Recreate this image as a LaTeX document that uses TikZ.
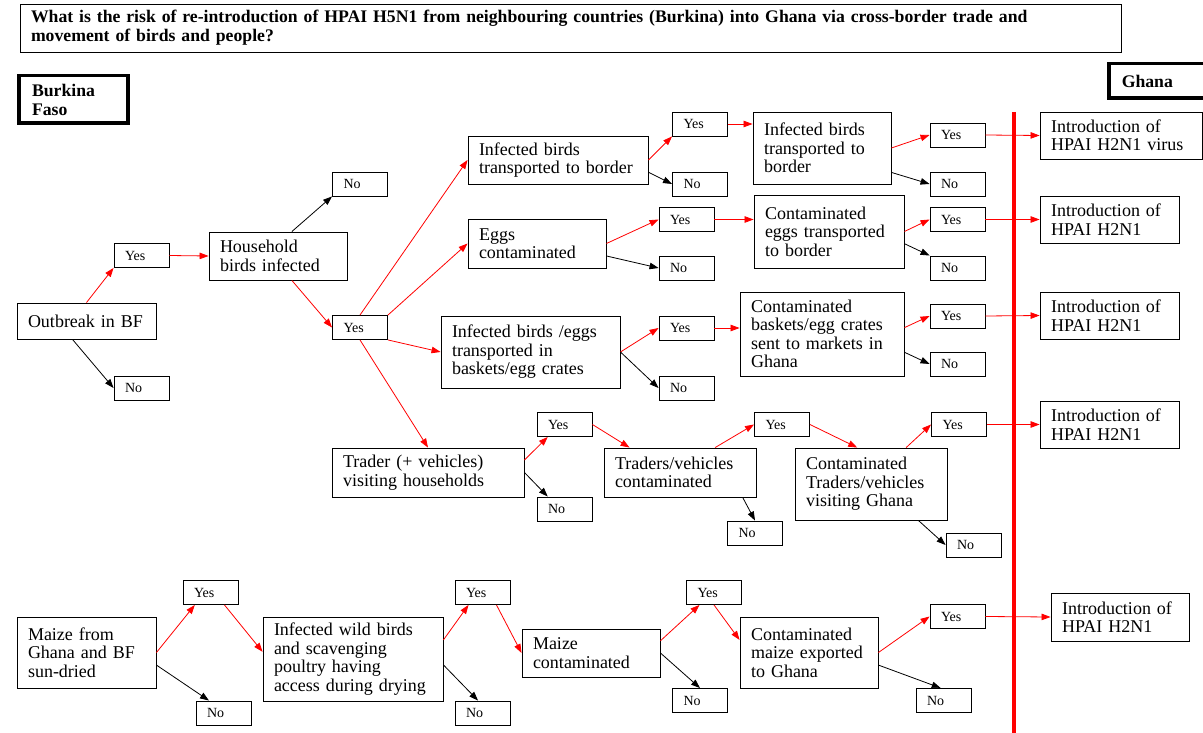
\documentclass[tikz,border=0pt]{standalone}
\usepackage{fontspec}
\setmainfont{Liberation Serif}
\usepackage{tikz}
\usetikzlibrary{arrows.meta,calc}

\newcommand{\diagfont}{\fontsize{18}{18.5}\selectfont}
\newcommand{\ynfont}{\fontsize{14}{16}\selectfont}
\newcommand{\headfont}{\fontsize{17.7}{19}\selectfont\bfseries}

\tikzset{
  box/.style={
    draw,
    line width=0.9pt,
    align=left,
    inner xsep=11pt,
    inner ysep=0pt,
    font=\diagfont
  },
  yn/.style={
    box,
    text width=33pt,
    minimum height=24pt,
    font=\ynfont
  },
  country/.style={
    draw,
    line width=3.5pt,
    align=left,
    inner xsep=13pt,
    inner ysep=0pt,
    font=\headfont
  },
  yesarrow/.style={
    red,
    line width=0.8pt,
    -{Triangle[length=9pt,width=6.5pt]}
  },
  noarrow/.style={
    black,
    line width=0.8pt,
    -{Triangle[length=9pt,width=6.5pt]}
  },
  border/.style={
    red,
    line width=3.5pt
  }
}

\begin{document}
\begin{tikzpicture}[x=1pt,y=-1pt]
        \fill[white] (0,0) rectangle (1203,733);
        \useasboundingbox (0,0) rectangle (1203,733);

        \node[box, font=\headfont, text width=1079pt, minimum height=48pt] (q) at (570.5,28)
          {What is the risk of re-introduction of HPAI H5N1 from neighbouring countries (Burkina) into Ghana via cross-border trade and\\movement of birds and people?};
        \node[country, text width=83pt, minimum height=47.5pt] (bf) at (73.5,99.5) {Burkina\\Faso};
        \node[country, text width=73.5pt, minimum height=34.5pt] (gh) at (1158.5,81) {Ghana};

        % border between the two countries
        \coordinate (lt) at (1014,112);
        \coordinate (lb) at (1014,735);
        \draw[border] (lt) -- (lb);

        % outbreak in households
        \node[box, text width=117pt, minimum height=36pt] (ob) at (86.5,321) {Outbreak in BF};
        \node[yn] (y1) at (141.5,255.5) {Yes};
        \node[yn] (n1) at (141.5,388) {No};
        \node[box, text width=116pt, minimum height=48pt] (hh) at (278,256) {Household\\birds infected};
        \node[yn] (n2) at (360,184) {No};
        \node[yn] (y2) at (360,327.5) {Yes};

        \node[box, text width=158pt, minimum height=48pt] (ib1) at (558,160) {Infected birds\\transported to border};
        \node[yn] (y3) at (700,124) {Yes};
        \node[yn] (n3) at (700,184) {No};
        \node[box, text width=116pt, minimum height=72pt] (ib2) at (822,148) {Infected birds\\transported to\\border};
        \node[yn] (y4) at (957.5,135) {Yes};
        \node[yn] (n4) at (957.5,184) {No};
        \node[box, text width=140pt, minimum height=47pt] (in1) at (1121,135.5) {Introduction of\\HPAI H2N1 virus};

        \node[box, text width=116pt, minimum height=49pt] (eggs) at (537,243.5) {Eggs\\contaminated};
        \node[yn] (y5) at (686.5,219.5) {Yes};
        \node[yn] (n5) at (686.5,268) {No};
        \node[box, text width=128pt, minimum height=73pt] (ce) at (829,231.5) {Contaminated\\eggs transported\\to border};
        \node[yn] (y6) at (957.5,219.5) {Yes};
        \node[yn] (n6) at (957.5,268) {No};
        \node[box, text width=117pt, minimum height=47pt] (in2) at (1109.5,219.5) {Introduction of\\HPAI H2N1};

        \node[box, text width=157pt, minimum height=72pt] (ibe) at (530.5,352) {Infected birds /eggs\\transported in\\baskets/egg crates};
        \node[yn] (y7) at (686.5,328) {Yes};
        \node[yn] (n7) at (686.5,388) {No};
        \node[box, text width=142pt, minimum height=84pt] (cb) at (822,334) {Contaminated\\baskets/egg crates\\sent to markets in\\Ghana};
        \node[yn] (y8) at (957.5,316) {Yes};
        \node[yn] (n8) at (957.5,364) {No};
        \node[box, text width=117pt, minimum height=47pt] (in3) at (1109.5,315.5) {Introduction of\\HPAI H2N1};

        \node[box, text width=170pt, minimum height=49pt] (tr) at (428,472.5) {Trader (+ vehicles)\\visiting households};
        \node[yn] (y9) at (564.5,424.5) {Yes};
        \node[yn] (n9) at (564.5,509) {No};
        \node[box, text width=130pt, minimum height=49pt] (tv) at (680,472.5) {Traders/vehicles\\contaminated};
        \node[yn] (y10) at (782,424.5) {Yes};
        \node[yn] (n10) at (755,533) {No};
        \node[box, text width=130pt, minimum height=72pt] (ctv) at (871,484) {Contaminated\\Traders/vehicles\\visiting Ghana};
        \node[yn] (y11) at (959,424.5) {Yes};
        \node[yn] (n11) at (973.5,545) {No};
        \node[box, text width=117pt, minimum height=47pt] (in4) at (1109.5,424.5) {Introduction of\\HPAI H2N1};

        % maize drying
        \node[box, text width=117pt, minimum height=71pt] (mz) at (86.5,652.5) {Maize from\\Ghana and BF\\sun-dried};
        \node[yn] (y12) at (210.5,592.5) {Yes};
        \node[yn] (n12) at (223.5,713) {No};
        \node[box, text width=158pt, minimum height=84pt] (iw) at (353,659) {Infected wild birds\\and scavenging\\poultry having\\access during drying};
        \node[yn] (y13) at (482.5,592.5) {Yes};
        \node[yn] (n13) at (482.5,713) {No};
        \node[box, text width=116pt, minimum height=48pt] (mc) at (591,653) {Maize\\contaminated};
        \node[yn] (y14) at (714,592.5) {Yes};
        \node[yn] (n14) at (700,700.5) {No};
        \node[box, text width=116pt, minimum height=71pt] (cm) at (809,652.5) {Contaminated\\maize exported\\to Ghana};
        \node[yn] (y15) at (957.5,616.5) {Yes};
        \node[yn] (n15) at (943.5,700.5) {No};
        \node[box, text width=116pt, minimum height=48pt] (in5) at (1120,617) {Introduction of\\HPAI H2N1};

        \draw[yesarrow] (ob.north) -- (y1.south west);
        \draw[noarrow] ($(ob.south west)!0.4!(ob.south east)$) -- (n1.west);
        \draw[yesarrow] (y1.east) -- (hh.west);
        \draw[noarrow] ($(hh.north west)!0.6!(hh.north east)$) -- (n2.south west);
        \draw[yesarrow] ($(hh.south west)!0.6!(hh.south east)$) -- (y2.west);
        \draw[yesarrow] (y2.north) -- (ib1.west);
        \draw[yesarrow] (y2.north east) -- (eggs.west);
        \draw[yesarrow] (y2.south east) -- (ibe.west);
        \draw[yesarrow] (y2.south) -- (tr.north);

        \draw[yesarrow] (ib1.east) -- (y3.south west);
        \draw[noarrow] ($(ib1.east)!0.5!(ib1.south east)$) -- (n3.west);
        \draw[yesarrow] (y3.east) -- (y3.east -| ib2.west);
        \draw[yesarrow] (ib2.east) -- (y4.west);
        \draw[noarrow] ($(ib2.east)!0.67!(ib2.south east)$) -- (n4.west);
        \draw[yesarrow] (y4.east) -- (in1.west);

        \draw[yesarrow] (eggs.east) -- (y5.west);
        \draw[noarrow] ($(eggs.east)!0.5!(eggs.south east)$) -- (n5.west);
        \draw[yesarrow] (y5.east) -- (y5.east -| ce.west);
        \draw[yesarrow] (ce.east) -- (y6.west);
        \draw[noarrow] ($(ce.east)!0.33!(ce.south east)$) -- (n6.north west);
        \draw[yesarrow] (y6.east) -- (in2.west);

        \draw[yesarrow] (ibe.east) -- (y7.west);
        \draw[noarrow] (ibe.east) -- (n7.west);
        \draw[yesarrow] (y7.east) -- (y7.east -| cb.west);
        \draw[yesarrow] ($(cb.east)!0.15!(cb.north east)$) -- (y8.west);
        \draw[noarrow] ($(cb.east)!0.43!(cb.south east)$) -- (n8.west);
        \draw[yesarrow] (y8.east) -- (in3.west);

        \draw[yesarrow] ($(tr.east)!0.5!(tr.north east)$) -- ($(y9.south west)!0.2!(y9.south east)$);
        \draw[noarrow] (tr.east) -- ($(n9.north west)!0.2!(n9.north east)$);
        \draw[yesarrow] (y9.east) -- ($(tv.north west)!0.17!(tv.north east)$);
        \draw[yesarrow] ($(tv.north west)!0.73!(tv.north east)$) -- (y10.west);
        \draw[noarrow] ($(tv.south west)!0.91!(tv.south east)$) -- (n10.north);
        \draw[yesarrow] (y10.east) -- ($(ctv.north west)!0.41!(ctv.north east)$);
        \draw[yesarrow] ($(ctv.north west)!0.73!(ctv.north east)$) -- (y11.west);
        \draw[noarrow] ($(ctv.south west)!0.81!(ctv.south east)$) -- (n11.west);
        \draw[yesarrow] (y11.east) -- (in4.west);

        \draw[yesarrow] (mz.east) -- ($(y12.south west)!0.22!(y12.south east)$);
        \draw[noarrow] ($(mz.east)!0.35!(mz.south east)$) -- ($(n12.north west)!0.24!(n12.north east)$);
        \draw[yesarrow] ($(y12.south west)!0.75!(y12.south east)$) -- ($(iw.west)!0.17!(iw.north west)$);
        \draw[yesarrow] ($(iw.east)!0.45!(iw.north east)$) -- ($(y13.south west)!0.25!(y13.south east)$);
        \draw[noarrow] ($(iw.east)!0.14!(iw.south east)$) -- ($(n13.north west)!0.42!(n13.north east)$);
        \draw[yesarrow] ($(y13.south west)!0.75!(y13.south east)$) -- (mc.west);
        \draw[yesarrow] ($(mc.east)!0.5!(mc.north east)$) -- ($(y14.south west)!0.24!(y14.south east)$);
        \draw[noarrow] (mc.east) -- (n14.north);
        \draw[yesarrow] (y14.south) -- ($(cm.west)!0.35!(cm.north west)$);
        \draw[yesarrow] (cm.east) -- (y15.west);
        \draw[noarrow] ($(cm.east)!0.35!(cm.south east)$) -- ($(n15.north west)!0.45!(n15.north east)$);
        \draw[yesarrow] (y15.east) -- (in5.west);
\end{tikzpicture}
\end{document}
